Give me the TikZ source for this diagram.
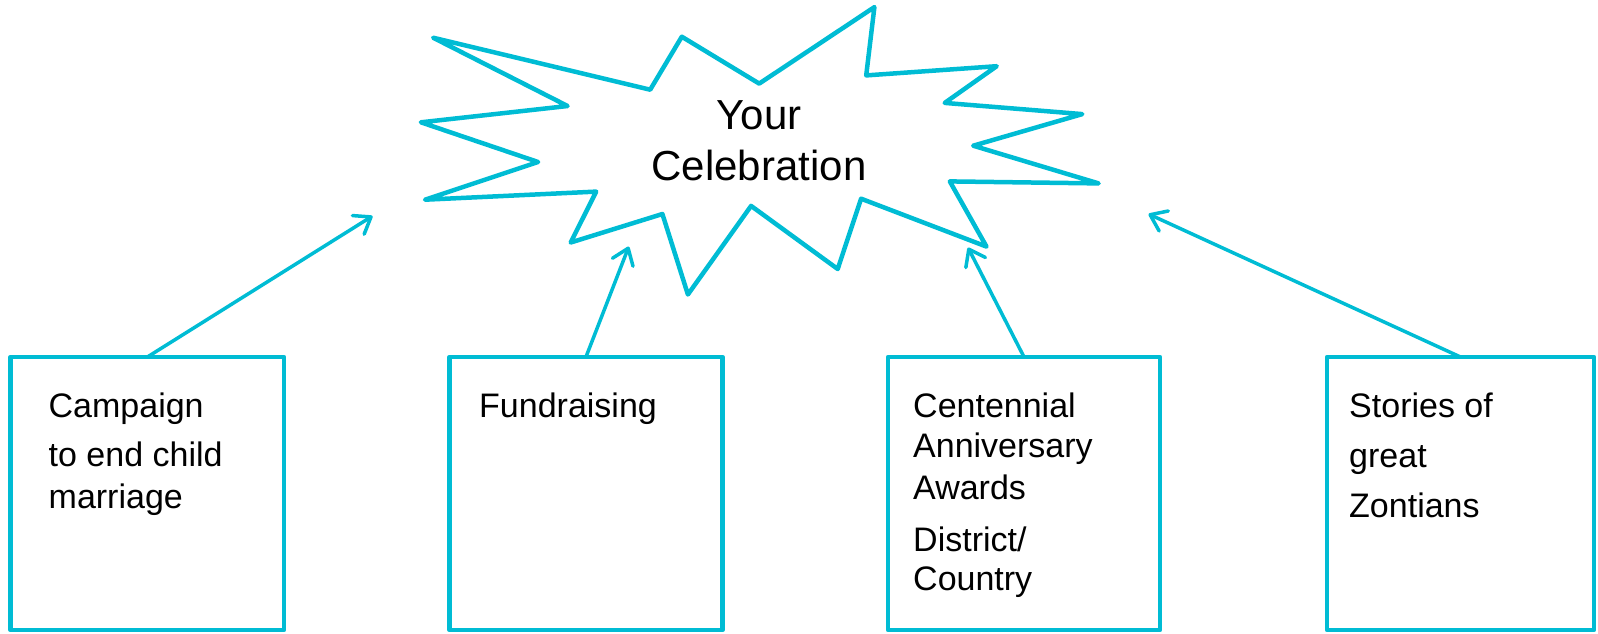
\documentclass[tikz,border=0pt]{standalone}
\usepackage{fontspec}
\setmainfont{Liberation Sans}
\usetikzlibrary{arrows.meta}
\definecolor{zcyan}{RGB}{0,188,212}
\begin{document}
\begin{tikzpicture}[x=1pt,y=-1pt,
  box/.style={draw=zcyan, line width=4.5pt, inner sep=0pt, outer sep=0pt,
    minimum height=273pt, line join=round},
  conn/.style={draw=zcyan, line width=3.5pt, line cap=round, -{Straight Barb[length=15pt,width=22pt,round]}},
  starline/.style={draw=zcyan, line width=4.5pt, line join=round},
  lbl/.style={anchor=base west, inner sep=0pt, font=\fontsize{34}{40}\selectfont},
  title/.style={anchor=base, inner sep=0pt, font=\fontsize{42}{50}\selectfont}]
\useasboundingbox (0,0) rectangle (1598,633);
% star
\draw[starline] (433.1,37.7) -- (567.6,106.0) -- (420.9,122.3) -- (538.1,162.0)
  -- (425.0,199.7) -- (596.2,191.6) -- (570.7,242.5) -- (662.4,214.0)
  -- (687.9,294.5) -- (751.1,205.9) -- (837.7,269.0) -- (861.1,198.7)
  -- (986.5,246.6) -- (949.8,181.4) -- (1098.6,183.4) -- (973.2,145.7)
  -- (1082.3,114.1) -- (944.7,102.9) -- (996.7,66.2) -- (866.2,75.4)
  -- (874.4,7.1) -- (759.2,83.6) -- (681.8,36.7) -- (650.2,89.7) -- cycle;
\node[title] (your) at (759,129.5) {Your};
\node[title] (celeb) at (759,180.5) {Celebration};
% boxes
\node[box, minimum width=273.3pt] (b1) at (147.35,493.5) {};
\node[box, minimum width=273.1pt] (b2) at (585.95,493.5) {};
\node[box, minimum width=272pt] (b3) at (1024,493.5) {};
\node[box, minimum width=267pt] (b4) at (1460.5,493.5) {};
% texts
\node[lbl] (t1a) at (48.5,417) {Campaign};
\node[lbl] (t1b) at (48.5,466) {to end child};
\node[lbl] (t1c) at (48.5,508) {marriage};
\node[lbl] (t2a) at (479,417) {Fundraising};
\node[lbl] (t3a) at (913,417) {Centennial};
\node[lbl] (t3b) at (913,457) {Anniversary};
\node[lbl] (t3c) at (913,499) {Awards};
\node[lbl] (t3d) at (913,551) {District/};
\node[lbl] (t3e) at (913,590) {Country};
\node[lbl] (t4a) at (1349,417) {Stories of};
\node[lbl] (t4b) at (1349,467) {great};
\node[lbl] (t4c) at (1349,517) {Zontians};
% arrow tips
\coordinate (tip1) at (372.5,216);
\coordinate (tip2) at (628.8,246.6);
\coordinate (tip3) at (968,247.6);
\coordinate (tip4) at (1148.5,214);
\draw[conn] (b1.north) -- (tip1);
\draw[conn] (b2.north) -- (tip2);
\draw[conn] (b3.north) -- (tip3);
\draw[conn] (b4.north) -- (tip4);
\end{tikzpicture}
\end{document}
